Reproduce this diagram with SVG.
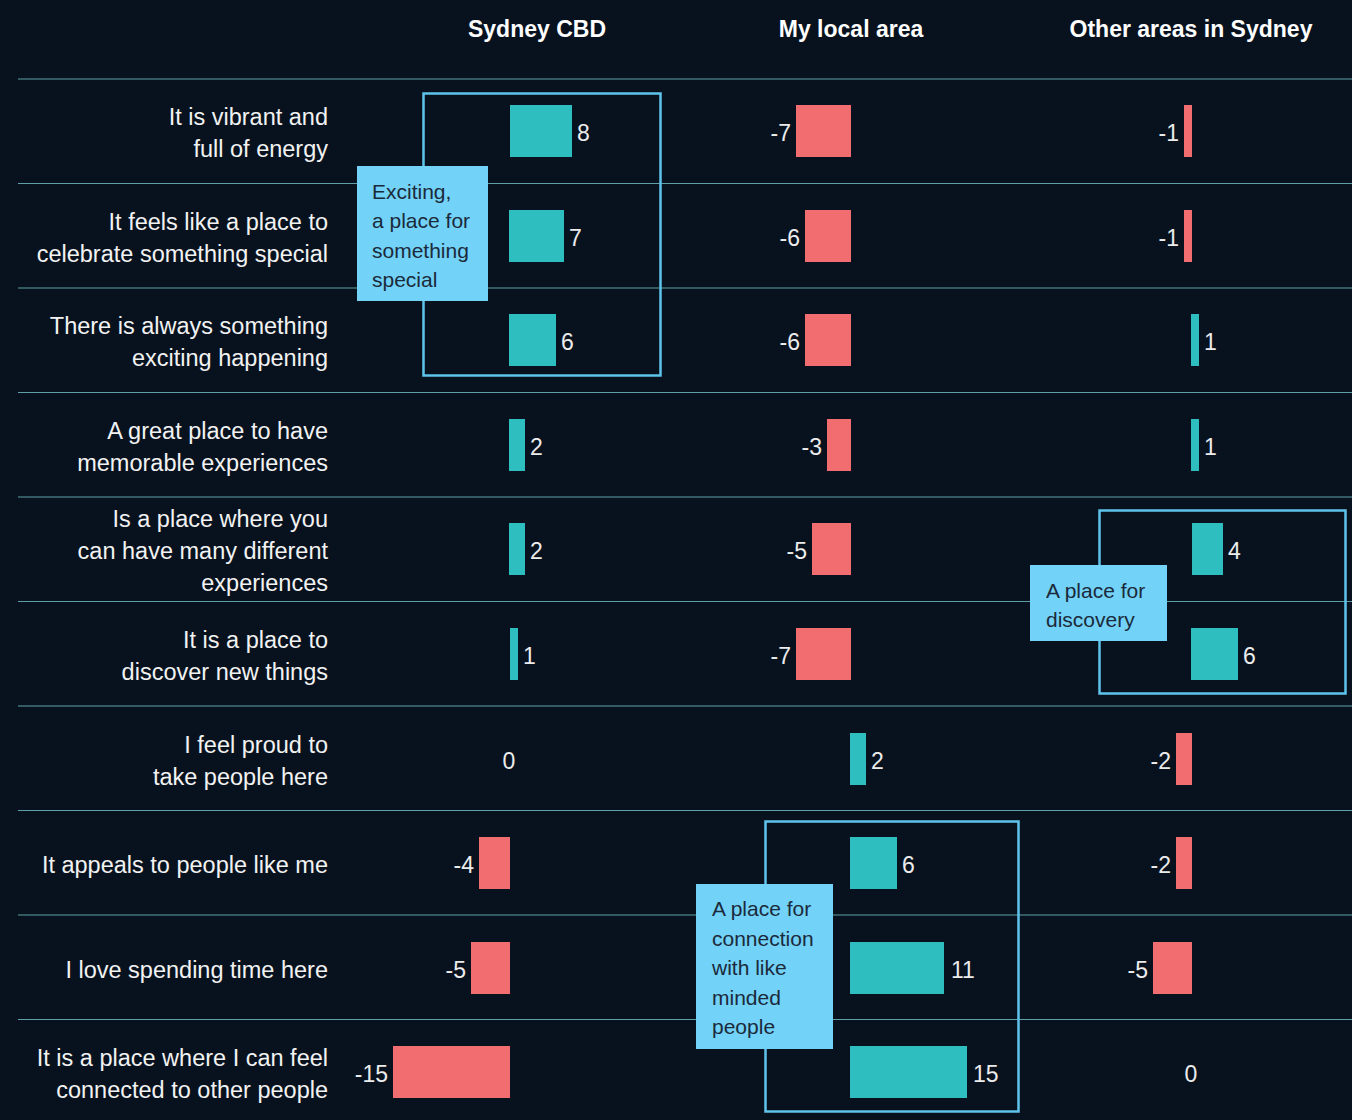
<svg xmlns="http://www.w3.org/2000/svg" width="1352" height="1120" viewBox="0 0 1352 1120">
<style>
.bg{fill:#08121f}
.grid{stroke:#5f9fa8;stroke-width:1.2}
.hdr{font-family:"Liberation Sans",Arial,sans-serif;font-size:23px;font-weight:bold;fill:#ffffff;text-anchor:middle}
.lbl{font-family:"Liberation Sans",Arial,sans-serif;font-size:23.5px;fill:#f2f2f2;text-anchor:end}
.val{font-family:"Liberation Sans",Arial,sans-serif;font-size:23px;fill:#ececec}
.neg{text-anchor:end}
.pos{fill:#2fbec0}
.nb{fill:#f26d6f}
.frame{fill:none;stroke:#5fc4ec;stroke-width:2.5}
.note{fill:#72d2f7}
.nt{font-family:"Liberation Sans",Arial,sans-serif;font-size:21px;fill:#1b2a3b}
</style>
<rect class="bg" x="0" y="0" width="1352" height="1120"/>
<g id="headers">
<text class="hdr" x="537" y="37">Sydney CBD</text>
<text class="hdr" x="851" y="37">My local area</text>
<text class="hdr" x="1191" y="37">Other areas in Sydney</text>
</g>
<g id="grid">
<line class="grid" x1="18" y1="79" x2="1352" y2="79"/>
<line class="grid" x1="18" y1="183.5" x2="1352" y2="183.5"/>
<line class="grid" x1="18" y1="288" x2="1352" y2="288"/>
<line class="grid" x1="18" y1="392.5" x2="1352" y2="392.5"/>
<line class="grid" x1="18" y1="497" x2="1352" y2="497"/>
<line class="grid" x1="18" y1="601.5" x2="1352" y2="601.5"/>
<line class="grid" x1="18" y1="706" x2="1352" y2="706"/>
<line class="grid" x1="18" y1="810.5" x2="1352" y2="810.5"/>
<line class="grid" x1="18" y1="915" x2="1352" y2="915"/>
<line class="grid" x1="18" y1="1019.5" x2="1352" y2="1019.5"/>
</g>
<g id="row-labels">
<text class="lbl" x="328" y="125">It is vibrant and</text>
<text class="lbl" x="328" y="157">full of energy</text>
<text class="lbl" x="328" y="230">It feels like a place to</text>
<text class="lbl" x="328" y="262">celebrate something special</text>
<text class="lbl" x="328" y="334">There is always something</text>
<text class="lbl" x="328" y="366">exciting happening</text>
<text class="lbl" x="328" y="439">A great place to have</text>
<text class="lbl" x="328" y="471">memorable experiences</text>
<text class="lbl" x="328" y="527">Is a place where you</text>
<text class="lbl" x="328" y="559">can have many different</text>
<text class="lbl" x="328" y="591">experiences</text>
<text class="lbl" x="328" y="648">It is a place to</text>
<text class="lbl" x="328" y="680">discover new things</text>
<text class="lbl" x="328" y="753">I feel proud to</text>
<text class="lbl" x="328" y="785">take people here</text>
<text class="lbl" x="328" y="873">It appeals to people like me</text>
<text class="lbl" x="328" y="978">I love spending time here</text>
<text class="lbl" x="328" y="1066">It is a place where I can feel</text>
<text class="lbl" x="328" y="1098">connected to other people</text>
</g>
<g id="bars-cbd">
<rect class="pos" x="510" y="105" width="62" height="52"/><text class="val" x="577" y="141">8</text>
<rect class="pos" x="509" y="210" width="55" height="52"/><text class="val" x="569" y="246">7</text>
<rect class="pos" x="509" y="314" width="47" height="52"/><text class="val" x="561" y="350">6</text>
<rect class="pos" x="509" y="419" width="16" height="52"/><text class="val" x="530" y="455">2</text>
<rect class="pos" x="509" y="523" width="16" height="52"/><text class="val" x="530" y="559">2</text>
<rect class="pos" x="510" y="628" width="8" height="52"/><text class="val" x="523" y="664">1</text>
<text class="val" x="509" y="769" text-anchor="middle">0</text>
<rect class="nb" x="479" y="837" width="31" height="52"/><text class="val neg" x="474" y="873">-4</text>
<rect class="nb" x="471" y="942" width="39" height="52"/><text class="val neg" x="466" y="978">-5</text>
<rect class="nb" x="393" y="1046" width="117" height="52"/><text class="val neg" x="388" y="1082">-15</text>
</g>
<g id="bars-local">
<rect class="nb" x="796" y="105" width="55" height="52"/><text class="val neg" x="791" y="141">-7</text>
<rect class="nb" x="805" y="210" width="46" height="52"/><text class="val neg" x="800" y="246">-6</text>
<rect class="nb" x="805" y="314" width="46" height="52"/><text class="val neg" x="800" y="350">-6</text>
<rect class="nb" x="827" y="419" width="24" height="52"/><text class="val neg" x="822" y="455">-3</text>
<rect class="nb" x="812" y="523" width="39" height="52"/><text class="val neg" x="807" y="559">-5</text>
<rect class="nb" x="796" y="628" width="55" height="52"/><text class="val neg" x="791" y="664">-7</text>
<rect class="pos" x="850" y="733" width="16" height="52"/><text class="val" x="871" y="769">2</text>
<rect class="pos" x="850" y="837" width="47" height="52"/><text class="val" x="902" y="873">6</text>
<rect class="pos" x="850" y="942" width="94" height="52"/><text class="val" x="951" y="978">11</text>
<rect class="pos" x="850" y="1046" width="117" height="52"/><text class="val" x="973" y="1082">15</text>
</g>
<g id="bars-other">
<rect class="nb" x="1184" y="105" width="8" height="52"/><text class="val neg" x="1179" y="141">-1</text>
<rect class="nb" x="1184" y="210" width="8" height="52"/><text class="val neg" x="1179" y="246">-1</text>
<rect class="pos" x="1191" y="314" width="8" height="52"/><text class="val" x="1204" y="350">1</text>
<rect class="pos" x="1191" y="419" width="8" height="52"/><text class="val" x="1204" y="455">1</text>
<rect class="pos" x="1192" y="523" width="31" height="52"/><text class="val" x="1228" y="559">4</text>
<rect class="pos" x="1191" y="628" width="47" height="52"/><text class="val" x="1243" y="664">6</text>
<rect class="nb" x="1176" y="733" width="16" height="52"/><text class="val neg" x="1171" y="769">-2</text>
<rect class="nb" x="1176" y="837" width="16" height="52"/><text class="val neg" x="1171" y="873">-2</text>
<rect class="nb" x="1153" y="942" width="39" height="52"/><text class="val neg" x="1148" y="978">-5</text>
<text class="val" x="1191" y="1082" text-anchor="middle">0</text>
</g>
<g id="callout-exciting">
<rect class="frame" x="423.5" y="93.5" width="237" height="282"/>
<rect class="note" x="357" y="166" width="131" height="135"/>
<text class="nt" x="372" y="199">Exciting,</text>
<text class="nt" x="372" y="228">a place for</text>
<text class="nt" x="372" y="258">something</text>
<text class="nt" x="372" y="287">special</text>
</g>
<g id="callout-discovery">
<rect class="frame" x="1099.5" y="510.5" width="246" height="183"/>
<rect class="note" x="1030" y="565" width="137" height="76"/>
<text class="nt" x="1046" y="598">A place for</text>
<text class="nt" x="1046" y="627">discovery</text>
</g>
<g id="callout-connection">
<rect class="frame" x="765.5" y="821.5" width="253" height="290"/>
<rect class="note" x="696" y="884" width="137" height="165"/>
<text class="nt" x="712" y="916">A place for</text>
<text class="nt" x="712" y="946">connection</text>
<text class="nt" x="712" y="975">with like</text>
<text class="nt" x="712" y="1005">minded</text>
<text class="nt" x="712" y="1034">people</text>
</g>
</svg>
